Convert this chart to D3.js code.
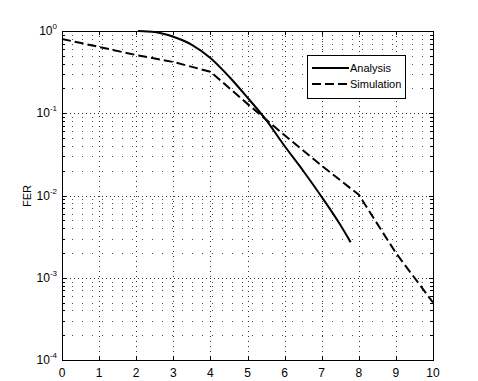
<!DOCTYPE html>
<html>
<head>
<meta charset="utf-8">
<script src="https://cdn.jsdelivr.net/npm/d3@7"></script>
<style>
  body { margin: 0; background: #fff; }
  svg { display: block; font-family: "Liberation Sans", Arial, sans-serif; }
</style>
</head>
<body>
<svg id="chart" width="478" height="381"></svg>
<script>
// values
const xTicks = [0, 1, 2, 3, 4, 5, 6, 7, 8, 9, 10];
const yDecades = [0, -1, -2, -3, -4];

const analysisSNR = [2.05, 2.5, 3, 3.5, 4, 4.5, 5, 5.5, 6, 6.5, 7, 7.5, 7.78];
const analysisFER = [1.0, 0.97, 0.85, 0.68, 0.47, 0.28, 0.155, 0.083, 0.040, 0.020, 0.0096, 0.0044, 0.0027];

const simulationSNR = [0, 1, 2, 3, 4, 5, 6, 7, 8, 9, 10];
const simulationFER = [0.80, 0.64, 0.51, 0.42, 0.32, 0.13, 0.054, 0.023, 0.0102, 0.0020, 0.0005];

const seriesNames = ["Analysis", "Simulation"];

const svg = d3.select("#chart");
const pLeft = 62, pRight = 433, pTop = 31, pBottom = 360;

const x = d3.scaleLinear().domain([0, 10]).range([pLeft, pRight]);
const y = d3.scaleLog().domain([1e-4, 1]).range([pBottom, pTop]);

// grid
const grid = svg.append("g").attr("stroke", "#000").attr("fill", "none");
const minorVals = [];
for (let e = -4; e < 0; e++) for (let m = 2; m <= 9; m++) minorVals.push(m * Math.pow(10, e));

grid.selectAll(".xg").data(xTicks.slice(1, -1)).enter().append("line")
    .attr("x1", d => Math.round(x(d)) + 0.5).attr("x2", d => Math.round(x(d)) + 0.5)
    .attr("y1", pTop).attr("y2", pBottom)
    .attr("stroke-dasharray", "1,4").attr("stroke-opacity", 0.8);

grid.selectAll(".yg").data(yDecades.slice(1, -1)).enter().append("line")
    .attr("x1", pLeft).attr("x2", pRight)
    .attr("y1", d => Math.round(y(Math.pow(10, d))) + 0.5).attr("y2", d => Math.round(y(Math.pow(10, d))) + 0.5)
    .attr("stroke-dasharray", "1,3").attr("stroke-opacity", 0.8);

grid.selectAll(".ym").data(minorVals).enter().append("line")
    .attr("x1", pLeft).attr("x2", pRight)
    .attr("y1", d => Math.round(y(d)) + 0.5).attr("y2", d => Math.round(y(d)) + 0.5)
    .attr("stroke-dasharray", "1,9").attr("stroke-opacity", 0.7);

// ticks (inside, both sides)
const ticks = svg.append("g").attr("stroke", "#000").attr("stroke-width", 1);
xTicks.forEach(d => {
  const px = Math.round(x(d)) + 0.5;
  ticks.append("line").attr("x1", px).attr("x2", px).attr("y1", pBottom).attr("y2", pBottom - 4);
  ticks.append("line").attr("x1", px).attr("x2", px).attr("y1", pTop).attr("y2", pTop + 4);
});
yDecades.forEach(d => {
  const py = Math.round(y(Math.pow(10, d))) + 0.5;
  ticks.append("line").attr("x1", pLeft).attr("x2", pLeft + 4).attr("y1", py).attr("y2", py);
  ticks.append("line").attr("x1", pRight).attr("x2", pRight - 4).attr("y1", py).attr("y2", py);
});
minorVals.forEach(d => {
  const py = Math.round(y(d)) + 0.5;
  ticks.append("line").attr("x1", pLeft).attr("x2", pLeft + 3).attr("y1", py).attr("y2", py);
  ticks.append("line").attr("x1", pRight).attr("x2", pRight - 3).attr("y1", py).attr("y2", py);
});

// axes box
svg.append("rect")
    .attr("x", pLeft + 0.5).attr("y", pTop + 0.5)
    .attr("width", pRight - pLeft).attr("height", pBottom - pTop)
    .attr("fill", "none").attr("stroke", "#000");

// tick labels
svg.append("g").selectAll("text").data(xTicks).enter().append("text")
    .attr("x", d => x(d)).attr("y", 377)
    .attr("text-anchor", "middle").attr("font-size", 12)
    .text(d => d);

const yl = svg.append("g").selectAll("text").data(yDecades).enter().append("text")
    .attr("x", 57).attr("y", d => y(Math.pow(10, d)) + 4)
    .attr("text-anchor", "end").attr("font-size", 12);
yl.append("tspan").text("10");
yl.append("tspan").attr("dy", -6).attr("font-size", 8).text(d => d);

// axis label
svg.append("text")
    .attr("transform", "translate(31,196) rotate(-90)")
    .attr("text-anchor", "middle").attr("font-size", 11)
    .text("FER");

// lines
const plot = svg.append("g");
const analysisLine = d3.line().x(d => x(d[0])).y(d => y(d[1])).curve(d3.curveMonotoneX);
const simLine = d3.line().x(d => x(d[0])).y(d => y(d[1]));

plot.append("path")
    .datum(d3.zip(analysisSNR, analysisFER))
    .attr("d", analysisLine)
    .attr("fill", "none").attr("stroke", "#000").attr("stroke-width", 2);

plot.append("path")
    .datum(d3.zip(simulationSNR, simulationFER))
    .attr("d", simLine)
    .attr("fill", "none").attr("stroke", "#000").attr("stroke-width", 2)
    .attr("stroke-dasharray", "9,4");

// legend
const lg = svg.append("g");
lg.append("rect").attr("x", 307.5).attr("y", 55.5).attr("width", 98).attr("height", 43)
    .attr("fill", "#fff").attr("stroke", "#000");
seriesNames.forEach((name, i) => {
  const ly = 68 + i * 16;
  lg.append("line").attr("x1", 312).attr("x2", 349).attr("y1", ly).attr("y2", ly)
      .attr("stroke", "#000").attr("stroke-width", 2)
      .attr("stroke-dasharray", i === 1 ? "9,4" : null);
  lg.append("text").attr("x", 350).attr("y", ly + 4).attr("font-size", 11).text(name);
});
</script>
</body>
</html>
